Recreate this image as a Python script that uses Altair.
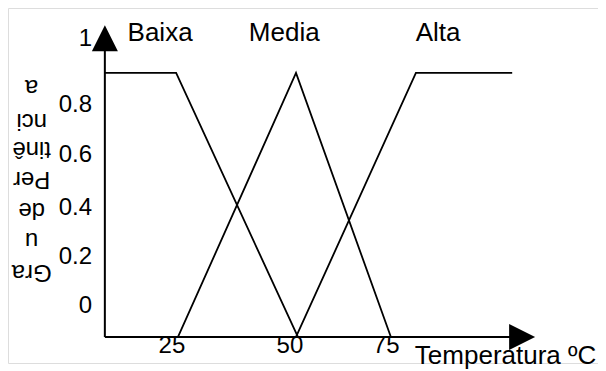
import altair as alt
import pandas as pd

# Membership functions (x in drawing temperature units, y = degree of membership)
baixa_x = [9.5, 24.6, 50.4]
baixa_y = [1.0, 1.0, 0.0]
media_x = [25.0, 50.0, 70.1]
media_y = [0.0, 1.0, 0.0]
alta_x = [50.0, 75.4, 95.8]
alta_y = [0.0, 1.0, 1.0]

series_names = ["Baixa", "Media", "Alta"]
series_label_x = [21.2, 47.5, 80.1]
series_label_y = 1.152

x_tick_labels = ["25", "50", "75"]
x_tick_pos = [23.7, 48.7, 69.1]

y_tick_labels = ["0", "0.2", "0.4", "0.6", "0.8", "1"]
y_tick_pos = [0.117, 0.303, 0.489, 0.689, 0.879, 1.13]

y_title_parts = ["Gra", "u", "de", "Per", "tinê", "nci", "a"]
y_title_pos = [0.245, 0.366, 0.48, 0.597, 0.711, 0.817, 0.946]

x_title = "Temperatura ºC"

FONT = "Liberation Sans"

xs = alt.Scale(domain=[-11.02, 113.98], nice=False, zero=False)
ys = alt.Scale(domain=[-0.0985, 1.246], nice=False, zero=False)

rows = []
for name, xv, yv in [("Baixa", baixa_x, baixa_y), ("Media", media_x, media_y), ("Alta", alta_x, alta_y)]:
    for i, (a, b) in enumerate(zip(xv, yv)):
        rows.append({"serie": name, "x": a, "y": b, "o": i})
df = pd.DataFrame(rows)

X = lambda f: alt.X(f, type="quantitative", scale=xs, axis=None)
Y = lambda f: alt.Y(f, type="quantitative", scale=ys, axis=None)

lines = alt.Chart(df).mark_line(color="black", strokeWidth=1.8).encode(
    x=X("x"), y=Y("y"), detail="serie:N", order="o:Q"
)

axes_df = pd.DataFrame({"x": [9.5], "x2": [97.9], "y": [0.0], "y2": [1.131]})
h_axis = alt.Chart(axes_df).mark_rule(color="black", strokeWidth=2).encode(
    x=X("x"), x2="x2", y=Y("y")
)
v_axis = alt.Chart(axes_df).mark_rule(color="black", strokeWidth=2).encode(
    x=X("x"), y=Y("y"), y2="y2"
)

arrow_up = alt.Chart(pd.DataFrame({"x": [9.5], "y": [1.131]})).mark_point(
    shape="M0,-1L1,1L-1,1Z", size=676, filled=True, color="black", opacity=1, strokeWidth=0
).encode(x=X("x"), y=Y("y"))
arrow_right = alt.Chart(pd.DataFrame({"x": [97.9], "y": [0.0]})).mark_point(
    shape="M1,0L-1,-1L-1,1Z", size=676, filled=True, color="black", opacity=1, strokeWidth=0
).encode(x=X("x"), y=Y("y"))

lab_df = pd.DataFrame({"t": series_names, "x": series_label_x, "y": [series_label_y] * 3})
labels = alt.Chart(lab_df).mark_text(font=FONT, fontSize=26, color="black", baseline="middle", align="center").encode(
    x=X("x"), y=Y("y"), text="t:N"
)

xt_df = pd.DataFrame({"t": x_tick_labels, "x": x_tick_pos, "y": [-0.035] * 3})
xticks = alt.Chart(xt_df).mark_text(font=FONT, fontSize=24, color="black", baseline="middle", align="center").encode(
    x=X("x"), y=Y("y"), text="t:N"
)

yt_df = pd.DataFrame({"t": y_tick_labels, "y": y_tick_pos, "x": [6.8] * 6})
yticks = alt.Chart(yt_df).mark_text(font=FONT, fontSize=24, color="black", baseline="middle", align="right").encode(
    x=X("x"), y=Y("y"), text="t:N"
)

yt2_df = pd.DataFrame({"t": y_title_parts, "y": y_title_pos, "x": [-6.0] * 7})
ytitle = alt.Chart(yt2_df).mark_text(font=FONT, fontSize=24, color="black", baseline="middle", align="center", angle=180).encode(
    x=X("x"), y=Y("y"), text="t:N"
)

xtitle = alt.Chart(pd.DataFrame({"t": [x_title], "x": [94.4], "y": [-0.073]})).mark_text(
    font=FONT, fontSize=26, color="black", baseline="middle", align="center"
).encode(x=X("x"), y=Y("y"), text="t:N")

chart = alt.layer(lines, h_axis, v_axis, arrow_up, arrow_right, labels, xticks, yticks, ytitle, xtitle).properties(
    width=590, height=355,
    padding={"top": 0, "left": 0, "right": 0, "bottom": 8},
    autosize=alt.AutoSizeParams(type="none")
).configure_view(stroke=None).configure(background="white")

chart.save("out.html", embed_options={"renderer": "svg", "actions": False})
